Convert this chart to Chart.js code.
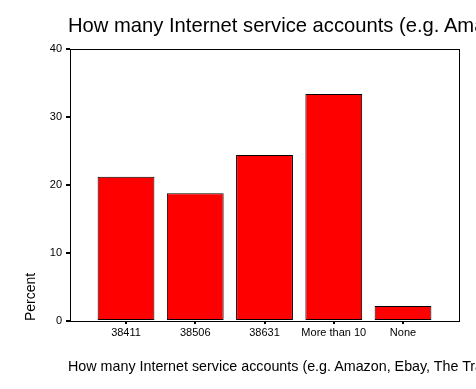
<!DOCTYPE html>
<html>
<head>
<meta charset="utf-8">
<script src="https://cdn.jsdelivr.net/npm/chart.js@4"></script>
<style>
  html, body { margin: 0; padding: 0; background: #fff; }
  #wrap { position: relative; width: 476px; height: 389px; overflow: hidden; }
  #c { position: absolute; left: 0; top: 0; }
  .ttl { position: absolute; white-space: nowrap; font-family: "Liberation Sans", Arial, sans-serif; color: #000; line-height: 1; }
  #mainTitle { left: 68px; top: 15px; font-size: 20.2px; }
  #xTitle { left: 68px; top: 359px; font-size: 14.3px; }
</style>
</head>
<body>
<div id="wrap">
  <canvas id="c" width="476" height="389"></canvas>
  <div id="mainTitle" class="ttl">How many Internet service accounts (e.g. Amazon, Ebay, The Trading Post) do you have?</div>
  <div id="xTitle" class="ttl">How many Internet service accounts (e.g. Amazon, Ebay, The Trading Post) do you have?</div>
</div>
<script>
const categories = ["38411", "38506", "38631", "More than 10", "None"];
const percentValues = [21.2, 18.8, 24.4, 33.4, 2.2];
const yTicks = [0, 10, 20, 30, 40];
const yAxisTitle = "Percent";

const FONT = "'Liberation Sans', Arial, sans-serif";

const framePlugin = {
  id: 'frame',
  afterDatasetsDraw(chart) {
    const a = chart.chartArea;
    const ctx = chart.ctx;
    ctx.save();
    ctx.strokeStyle = '#000';
    ctx.lineWidth = 1;
    ctx.strokeRect(Math.round(a.left) + 0.5, Math.round(a.top) + 0.5,
                   Math.round(a.right - a.left) - 1, Math.round(a.bottom - a.top));
    ctx.restore();
  }
};

new Chart(document.getElementById('c'), {
  type: 'bar',
  data: {
    datasets: [{
      data: percentValues.map((v, i) => ({ x: i, y: v })),
      backgroundColor: '#ff0000',
      borderColor: '#000',
      borderWidth: 1,
      borderSkipped: false,
      categoryPercentage: 1,
      barPercentage: 0.82
    }]
  },
  options: {
    responsive: false,
    animation: false,
    events: [],
    layout: { padding: { top: 49, right: 16, left: 0, bottom: 0 } },
    plugins: { legend: { display: false }, tooltip: { enabled: false }, title: { display: false } },
    scales: {
      x: {
        type: 'linear',
        offset: false,
        min: -0.809,
        max: 4.823,
        afterFit(s) { s.height = 68; },
        afterBuildTicks(s) { s.ticks = categories.map((c, i) => ({ value: i })); },
        border: { display: false },
        grid: { display: true, offset: false, drawOnChartArea: false, drawTicks: true, tickLength: 3, color: '#000', lineWidth: 2 },
        ticks: {
          autoSkip: false, maxRotation: 0, padding: 2, color: '#000',
          font: { family: FONT, size: 11 },
          callback: (v) => categories[v]
        }
      },
      y: {
        min: 0,
        max: 40,
        afterFit(s) { s.width = 70; },
        afterBuildTicks(s) { s.ticks = yTicks.map(v => ({ value: v })); },
        border: { display: false },
        grid: { display: true, drawOnChartArea: false, drawTicks: true, tickLength: 4, color: '#000', lineWidth: 2 },
        ticks: { padding: 4, color: '#000', font: { family: FONT, size: 11 } },
        title: {
          display: true, text: yAxisTitle, align: 'start', color: '#000',
          font: { family: FONT, size: 14 }, padding: { top: 23, bottom: 0 }
        }
      }
    }
  },
  plugins: [framePlugin]
});
</script>
</body>
</html>
